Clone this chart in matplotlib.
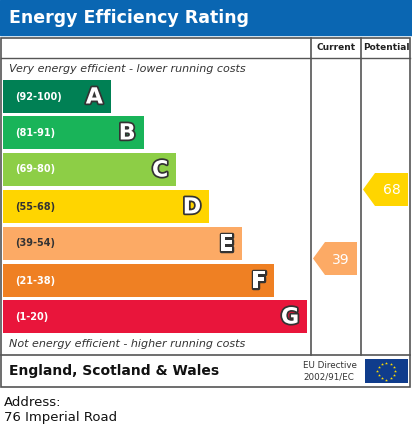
import matplotlib
matplotlib.use("Agg")
import matplotlib.pyplot as plt
from matplotlib.patches import Rectangle, Polygon
import matplotlib.patheffects as pe
import numpy as np

bands = ["A", "B", "C", "D", "E", "F", "G"]
ranges = ["(92-100)", "(81-91)", "(69-80)", "(55-68)", "(39-54)", "(21-38)", "(1-20)"]
band_colors = ["#008054", "#19b459", "#8dce46", "#ffd500", "#fcaa65", "#ef8023", "#e9153b"]
lows = [92, 81, 69, 55, 39, 21, 1]
current = 39
potential = 68
title = "Energy Efficiency Rating"
address = ["Address:", "76 Imperial Road"]

W, H = 412, 437
fig = plt.figure(figsize=(W/100, H/100), dpi=100)
ax = fig.add_axes([0, 0, 1, 1])
ax.set_xlim(0, W); ax.set_ylim(H, 0); ax.axis("off")

# header
ax.add_patch(Rectangle((0, 0), W, 35, color="#0a66b2"))
ax.text(9, 18, title, color="white", fontsize=12.5, fontweight="bold", va="center", ha="left")

lc = "#555555"
ax.add_patch(Rectangle((1.5, 38), 409, 349, fill=False, ec=lc, lw=1.2))
ax.plot([1.5, 410.5], [58, 58], color=lc, lw=1)
ax.plot([1.5, 410.5], [355, 355], color=lc, lw=1.2)
ax.plot([311, 311], [38, 355], color=lc, lw=1.2)
ax.plot([361, 361], [38, 355], color=lc, lw=1.2)
ax.text(336, 48, "Current", fontsize=6.5, fontweight="bold", ha="center", va="center", color="#222")
ax.text(386, 48, "Potential", fontsize=6.5, fontweight="bold", ha="center", va="center", color="#222")
ax.text(9, 69, "Very energy efficient - lower running costs", fontsize=8, style="italic", va="center", color="#333")
ax.text(9, 344, "Not energy efficient - higher running costs", fontsize=8, style="italic", va="center", color="#333")

tops = [80, 116, 153, 190, 227, 264, 300]
bh = 33
for i, (b, r, c) in enumerate(zip(bands, ranges, band_colors)):
    right = 111 + i * 32.7
    y = tops[i]
    ax.add_patch(Rectangle((3, y), right - 3, bh, color=c, lw=0))
    ax.text(15, y + bh/2, r, fontsize=7, fontweight="bold", va="center",
            color="white" if b in "ABCFG" else "#333")
    ax.text(right - 8, y + bh/2 + 1, b, fontsize=16, fontweight="bold", ha="right", va="center",
            color="white", path_effects=[pe.withStroke(linewidth=2.5, foreground="#333")])

def band_index(v):
    for i, lo in enumerate(lows):
        if v >= lo:
            return i
    return len(lows) - 1

def arrow(v, x0, x1):
    i = band_index(v)
    y = tops[i] - 17 if False else None
    return i

for v, x0, x1, ytop in [(current, 313, 357, None), (potential, 363, 408, None)]:
    i = band_index(v)
    yt = tops[i] + (15 if v == current else -17)
    yb = yt + 33
    ym = (yt + yb) / 2
    poly = Polygon([(x0, ym), (x0 + 12, yt), (x1, yt), (x1, yb), (x0 + 12, yb)],
                   closed=True, color=band_colors[i], lw=0)
    ax.add_patch(poly)
    ax.text((x0 + 12 + x1) / 2, ym + 1, str(v), fontsize=10, color="white", ha="center", va="center")

ax.text(9, 371, "England, Scotland & Wales", fontsize=10, fontweight="bold", va="center", color="#111")
ax.text(303, 365, "EU Directive", fontsize=6.3, va="center", color="#333")
ax.text(303, 377, "2002/91/EC", fontsize=6.3, va="center", color="#333")
ax.add_patch(Rectangle((365, 359), 43, 24, color="#0f3c8c", lw=0))
ang = np.linspace(0, 2*np.pi, 12, endpoint=False)
ax.scatter(386.5 + 9*np.cos(ang), 371 + 8.5*np.sin(ang), marker="*", s=5, color="#ffdd00", lw=0)

ax.text(4, 402, address[0], fontsize=9.5, va="center", color="#111")
ax.text(4, 417, address[1], fontsize=9.5, va="center", color="#111")

fig.savefig("out.png", dpi=100, facecolor="white")
